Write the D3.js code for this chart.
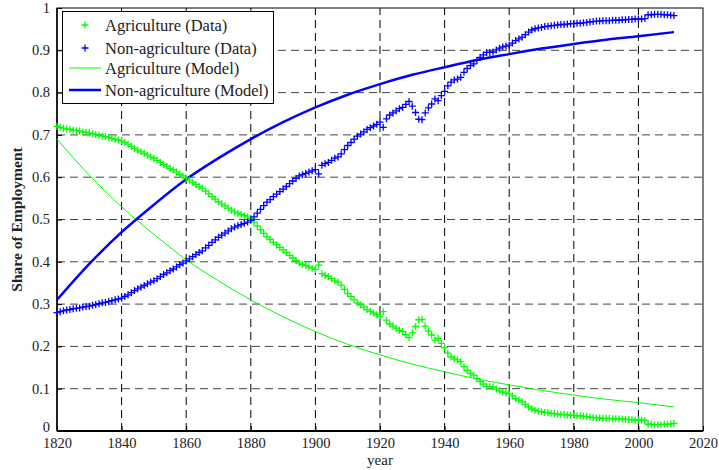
<!DOCTYPE html>
<html>
<head>
<meta charset="utf-8">
<script src="https://cdn.jsdelivr.net/npm/d3@7"></script>
<style>
  body { margin: 0; background: #fff; }
</style>
</head>
<body>
<script>
// years 1820..2011, one value per year
var firstYear = 1820;

var agData = [
  .720, .718, .716, .714, .713, .711, .710, .709, .707, .706, .705, .703, .701, .699, .697, .696, .694, .692, .690, .688,
  .686, .682, .678, .673, .668, .664, .660, .656, .652, .648, .645, .640, .635, .630, .626, .621, .617, .612, .607, .603,
  .598, .593, .588, .583, .578, .574, .567, .561, .554, .548, .542, .537, .532, .527, .522, .518, .515, .512, .509, .506,
  .502, .494, .485, .476, .467, .459, .453, .446, .440, .434, .428, .422, .415, .409, .403, .397, .394, .391, .388, .385,
  .382, .392, .372, .368, .365, .360, .355, .352, .345, .335, .325, .318, .310, .303, .298, .293, .287, .283, .279, .275,
  .270, .282, .262, .253, .248, .243, .238, .235, .228, .221, .232, .247, .263, .264, .248, .236, .227, .215, .219, .207,
  .197, .184, .175, .170, .168, .164, .152, .143, .136, .132, .124, .117, .111, .105, .105, .104, .099, .095, .092, .090,
  .088, .083, .077, .073, .069, .063, .057, .052, .049, .047, .046, .044, .043, .042, .041, .040, .039, .039, .038, .037,
  .037, .036, .036, .035, .034, .033, .032, .031, .031, .030, .030, .030, .029, .029, .029, .028, .028, .027, .027, .026,
  .026, .026, .025, .016, .016, .015, .015, .015, .016, .016, .017, .018
];

var nonAgData = [
  .280, .282, .284, .286, .287, .289, .290, .291, .293, .294, .295, .297, .299, .301, .303, .304, .306, .308, .310, .312,
  .314, .318, .322, .327, .332, .336, .340, .344, .348, .352, .355, .360, .365, .370, .374, .379, .383, .388, .393, .397,
  .402, .407, .412, .417, .422, .426, .433, .439, .446, .452, .458, .463, .468, .473, .478, .482, .485, .488, .491, .494,
  .498, .506, .515, .524, .533, .541, .547, .554, .560, .566, .572, .578, .585, .591, .597, .603, .606, .609, .612, .615,
  .618, .608, .628, .632, .635, .640, .645, .648, .655, .665, .675, .682, .690, .697, .702, .707, .713, .717, .721, .725,
  .730, .718, .738, .747, .752, .757, .762, .765, .772, .779, .768, .753, .737, .736, .752, .764, .773, .785, .781, .793,
  .803, .816, .825, .830, .832, .836, .848, .857, .864, .868, .876, .883, .889, .895, .895, .896, .901, .905, .908, .910,
  .912, .917, .923, .927, .931, .937, .943, .948, .951, .953, .954, .956, .957, .958, .959, .960, .961, .961, .962, .963,
  .963, .964, .964, .965, .966, .967, .968, .969, .969, .970, .970, .970, .971, .971, .971, .972, .972, .973, .973, .974,
  .974, .974, .975, .984, .984, .985, .985, .985, .984, .984, .983, .982
];

// model curves, read every 10 years
var modelYears = [1820, 1830, 1840, 1850, 1860, 1870, 1880, 1890, 1900, 1910, 1920, 1930, 1940, 1950, 1960, 1970, 1980, 1990, 2000, 2011];
var agModel    = [.690, .605, .530, .465, .405, .355, .310, .270, .235, .205, .180, .158, .140, .123, .109, .096, .085, .075, .067, .057];
var nonAgModel = [.310, .395, .470, .535, .595, .645, .690, .730, .765, .795, .820, .842, .860, .877, .891, .904, .915, .925, .933, .943];

var xTicks = [1820, 1840, 1860, 1880, 1900, 1920, 1940, 1960, 1980, 2000, 2020];
var yTicks = [0, 0.1, 0.2, 0.3, 0.4, 0.5, 0.6, 0.7, 0.8, 0.9, 1];

var legendLabels = ["Agriculture (Data)", "Non-agriculture (Data)", "Agriculture (Model)", "Non-agriculture (Model)"];

var green = "#00ff00", blue = "#0000ff";
var serif = "'Liberation Serif', 'Times New Roman', 'DejaVu Serif', serif";

var W = 719, H = 470;
var margin = {left: 57, right: 16, top: 8, bottom: 39};

var svg = d3.select("body").append("svg")
    .attr("width", W)
    .attr("height", H)
    .attr("font-family", serif);

var x = d3.scaleLinear().domain([1820, 2020]).range([margin.left, W - margin.right]);
var y = d3.scaleLinear().domain([0, 1]).range([H - margin.bottom, margin.top]);

// grid
var grid = svg.append("g").attr("class", "grid");
grid.selectAll("line.gx").data(xTicks.slice(1, -1)).enter().append("line")
    .attr("x1", d => x(d)).attr("x2", d => x(d))
    .attr("y1", y(0)).attr("y2", y(1))
    .attr("stroke", "#000").attr("stroke-width", 1).attr("stroke-dasharray", "8,5");
grid.selectAll("line.gy").data(yTicks.slice(1, -1)).enter().append("line")
    .attr("x1", x(1820)).attr("x2", x(2020))
    .attr("y1", d => y(d)).attr("y2", d => y(d))
    .attr("stroke", "#444").attr("stroke-width", 1).attr("stroke-dasharray", "8,5");

// axes (ticks inward, matlab style)
var xAxis = svg.append("g")
    .attr("transform", "translate(0," + y(0) + ")")
    .call(d3.axisBottom(x).tickValues(xTicks).tickFormat(d3.format("d")).tickSizeInner(-5).tickSizeOuter(0).tickPadding(9));
var yAxis = svg.append("g")
    .attr("transform", "translate(" + x(1820) + ",0)")
    .call(d3.axisLeft(y).tickValues(yTicks).tickFormat(d => d === 0 || d === 1 ? d : d3.format(".1f")(d)).tickSizeInner(-5).tickSizeOuter(0).tickPadding(7));
[xAxis, yAxis].forEach(function (a) {
    a.attr("font-family", serif);
    a.select(".domain").remove();
    a.selectAll("text").attr("font-size", 14.5).attr("fill", "#222");
    a.selectAll(".tick line").attr("stroke", "#000");
});
xAxis.selectAll("text").attr("dy", "0.55em");
yAxis.selectAll("text").attr("dy", "0.3em");
yAxis.selectAll(".tick").filter(d => d === 0).select("text").attr("dy", "0.05em");

// frame
svg.append("rect")
    .attr("x", x(1820)).attr("y", y(1))
    .attr("width", x(2020) - x(1820)).attr("height", y(0) - y(1))
    .attr("fill", "none").attr("stroke", "#000").attr("stroke-width", 1);
svg.append("line")
    .attr("x1", x(1820)).attr("x2", x(2020)).attr("y1", y(0)).attr("y2", y(0))
    .attr("stroke", "#000").attr("stroke-width", 2);
svg.append("line")
    .attr("x1", x(1820)).attr("x2", x(1820)).attr("y1", y(0)).attr("y2", y(1))
    .attr("stroke", "#000").attr("stroke-width", 1.5);

// model lines
var line = d3.line()
    .x(d => x(d[0]))
    .y(d => y(d[1]))
    .curve(d3.curveMonotoneX);

svg.append("path")
    .datum(modelYears.map((yr, i) => [yr, agModel[i]]))
    .attr("d", line).attr("fill", "none").attr("stroke", green).attr("stroke-width", 1);
svg.append("path")
    .datum(modelYears.map((yr, i) => [yr, nonAgModel[i]]))
    .attr("d", line).attr("fill", "none").attr("stroke", blue).attr("stroke-width", 2.5);

// data markers "+"
function plus(g, data, color) {
    var m = 3.5;
    g.selectAll("path").data(data.map((v, i) => [firstYear + i, v])).enter().append("path")
        .attr("d", d => {
            var px = x(d[0]), py = y(d[1]);
            return "M" + (px - m) + "," + py + "H" + (px + m) + "M" + px + "," + (py - m) + "V" + (py + m);
        })
        .attr("stroke", color).attr("stroke-width", 1.3).attr("fill", "none");
}
plus(svg.append("g"), agData, green);
plus(svg.append("g"), nonAgData, blue);

// axis titles
svg.append("text")
    .attr("x", (x(1820) + x(2020)) / 2)
    .attr("y", 465)
    .attr("text-anchor", "middle")
    .attr("font-size", 15)
    .attr("fill", "#222")
    .text("year");

svg.append("text")
    .attr("transform", "translate(22," + (y(0.5)) + ") rotate(-90)")
    .attr("text-anchor", "middle")
    .attr("font-size", 15.5)
    .attr("font-weight", "bold")
    .attr("fill", "#222")
    .text("Share of Employment");

// legend
var lg = svg.append("g");
lg.append("rect")
    .attr("x", 62.5).attr("y", 11.5).attr("width", 211).attr("height", 92)
    .attr("fill", "#fff").attr("stroke", "#000").attr("stroke-width", 1);
var rowsY = [25, 48, 68, 90];
legendLabels.forEach(function (lab, i) {
    var ry = rowsY[i];
    if (i < 2) {
        var c = i === 0 ? green : blue;
        lg.append("path")
            .attr("d", "M81.5," + ry + "H88.5M85," + (ry - 3.5) + "V" + (ry + 3.5))
            .attr("stroke", c).attr("stroke-width", 1.3);
    } else {
        lg.append("line")
            .attr("x1", 69).attr("x2", 101).attr("y1", ry).attr("y2", ry)
            .attr("stroke", i === 2 ? green : blue)
            .attr("stroke-width", i === 2 ? 1 : 2.5);
    }
    lg.append("text")
        .attr("x", 105).attr("y", ry).attr("dy", "0.35em")
        .attr("font-size", 16.5)
        .attr("fill", "#222")
        .attr("textLength", null)
        .text(lab);
});
</script>
</body>
</html>
